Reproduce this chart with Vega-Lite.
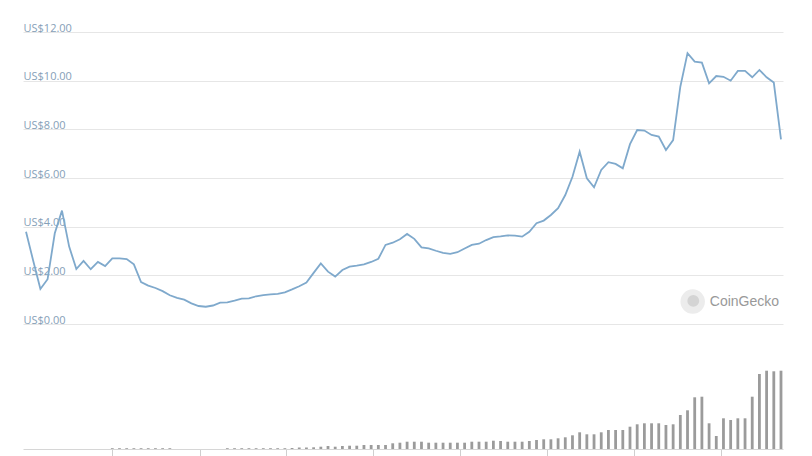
{
  "$schema": "https://vega.github.io/schema/vega-lite/v6.json",
  "width": 760,
  "height": 417,
  "autosize": {"type": "none"},
  "padding": {"left": 23, "top": 32, "right": 29, "bottom": 7},
  "background": "white",
  "config": {"view": {"stroke": null}, "font": "Open Sans"},
  "data": {"values": [
    {"k":0,"price":3.79,"volume":0},{"k":1,"price":2.6,"volume":0},{"k":2,"price":1.44,"volume":0},{"k":3,"price":1.84,"volume":0},
    {"k":4,"price":3.73,"volume":0},{"k":5,"price":4.66,"volume":0},{"k":6,"price":3.18,"volume":0},{"k":7,"price":2.26,"volume":0},
    {"k":8,"price":2.59,"volume":0},{"k":9,"price":2.25,"volume":0},{"k":10,"price":2.55,"volume":0},{"k":11,"price":2.38,"volume":0},
    {"k":12,"price":2.7,"volume":0.8},{"k":13,"price":2.7,"volume":0.8},{"k":14,"price":2.67,"volume":0.8},{"k":15,"price":2.45,"volume":0.8},
    {"k":16,"price":1.72,"volume":0.8},{"k":17,"price":1.58,"volume":0.8},{"k":18,"price":1.48,"volume":0.8},{"k":19,"price":1.35,"volume":0.8},
    {"k":20,"price":1.18,"volume":0.8},{"k":21,"price":1.07,"volume":0},{"k":22,"price":1.0,"volume":0},{"k":23,"price":0.85,"volume":0},
    {"k":24,"price":0.74,"volume":0},{"k":25,"price":0.71,"volume":0},{"k":26,"price":0.76,"volume":0},{"k":27,"price":0.88,"volume":0},
    {"k":28,"price":0.89,"volume":0.8},{"k":29,"price":0.96,"volume":0.8},{"k":30,"price":1.04,"volume":0.8},{"k":31,"price":1.05,"volume":0.8},
    {"k":32,"price":1.14,"volume":0.8},{"k":33,"price":1.19,"volume":0.8},{"k":34,"price":1.22,"volume":0.8},{"k":35,"price":1.24,"volume":0.8},
    {"k":36,"price":1.3,"volume":0.8},{"k":37,"price":1.42,"volume":1.0},{"k":38,"price":1.55,"volume":1.5},{"k":39,"price":1.7,"volume":1.5},
    {"k":40,"price":2.1,"volume":1.7},{"k":41,"price":2.49,"volume":2.3},{"k":42,"price":2.15,"volume":3.0},{"k":43,"price":1.95,"volume":2.3},
    {"k":44,"price":2.22,"volume":3.0},{"k":45,"price":2.36,"volume":3.3},{"k":46,"price":2.4,"volume":3.3},{"k":47,"price":2.45,"volume":4.0},
    {"k":48,"price":2.55,"volume":4.0},{"k":49,"price":2.68,"volume":4.0},{"k":50,"price":3.25,"volume":4.0},{"k":51,"price":3.34,"volume":5.7},
    {"k":52,"price":3.48,"volume":6.3},{"k":53,"price":3.7,"volume":7.3},{"k":54,"price":3.5,"volume":7.3},{"k":55,"price":3.15,"volume":7.3},
    {"k":56,"price":3.11,"volume":6.3},{"k":57,"price":3.01,"volume":6.3},{"k":58,"price":2.92,"volume":6.3},{"k":59,"price":2.88,"volume":6.3},
    {"k":60,"price":2.95,"volume":6.3},{"k":61,"price":3.1,"volume":6.3},{"k":62,"price":3.25,"volume":7.3},{"k":63,"price":3.3,"volume":7.3},
    {"k":64,"price":3.45,"volume":7.3},{"k":65,"price":3.57,"volume":8.3},{"k":66,"price":3.6,"volume":8.0},{"k":67,"price":3.64,"volume":7.3},
    {"k":68,"price":3.63,"volume":7.3},{"k":69,"price":3.59,"volume":7.3},{"k":70,"price":3.79,"volume":8.0},{"k":71,"price":4.14,"volume":9.0},
    {"k":72,"price":4.25,"volume":9.7},{"k":73,"price":4.48,"volume":9.7},{"k":74,"price":4.76,"volume":10.7},{"k":75,"price":5.3,"volume":11.7},
    {"k":76,"price":6.05,"volume":13.7},{"k":77,"price":7.08,"volume":16.7},{"k":78,"price":5.99,"volume":14.7},{"k":79,"price":5.62,"volume":14.7},
    {"k":80,"price":6.33,"volume":16.7},{"k":81,"price":6.65,"volume":19.0},{"k":82,"price":6.58,"volume":19.0},{"k":83,"price":6.4,"volume":19.0},
    {"k":84,"price":7.39,"volume":22.3},{"k":85,"price":7.97,"volume":24.7},{"k":86,"price":7.95,"volume":25.7},{"k":87,"price":7.77,"volume":25.7},
    {"k":88,"price":7.7,"volume":25.7},{"k":89,"price":7.15,"volume":24.0},{"k":90,"price":7.56,"volume":24.7},{"k":91,"price":9.75,"volume":34.0},
    {"k":92,"price":11.13,"volume":38.7},{"k":93,"price":10.78,"volume":51.7},{"k":94,"price":10.74,"volume":52.3},{"k":95,"price":9.89,"volume":25.7},
    {"k":96,"price":10.19,"volume":13.0},{"k":97,"price":10.16,"volume":30.7},{"k":98,"price":10.0,"volume":29.0},{"k":99,"price":10.4,"volume":30.7},
    {"k":100,"price":10.4,"volume":30.7},{"k":101,"price":10.14,"volume":52.3},{"k":102,"price":10.44,"volume":75.0},{"k":103,"price":10.14,"volume":78.3},
    {"k":104,"price":9.92,"volume":77.7},{"k":105,"price":7.59,"volume":78.3}
  ]},
  "layer": [
    {
      "layer": [
        {
          "mark": {"type": "line", "color": "#7fa9cc", "strokeWidth": 1.8},
          "encoding": {
            "x": {"field": "k", "type": "quantitative",
                  "scale": {"domain": [-0.42, 105.28], "nice": false, "zero": false, "padding": 0},
                  "axis": {"values": [11.96, 24.2, 36.16, 48.26, 60.36, 72.46, 84.56, 96.66], "labels": false,
                           "ticks": true, "tickSize": 8, "tickColor": "#cfcfcf", "domainColor": "#d6d6d6",
                           "grid": false, "title": null}},
            "y": {"field": "price", "type": "quantitative",
                  "scale": {"domain": [0, 12], "range": [292, 0], "nice": false, "zero": true},
                  "axis": {"values": [0, 2, 4, 6, 8, 10, 12], "labelExpr": "'US$' + format(datum.value, '.2f')",
                           "orient": "left", "domain": false, "ticks": false, "tickSize": 0, "labelPadding": 0,
                           "labelAlign": "left", "labelBaseline": "alphabetic", "labelOffset": -1,
                           "labelColor": "#86a0b8", "labelFontSize": 11, "labelFont": "Open Sans",
                           "grid": true, "gridColor": "#e6e6e6", "title": null}}
          }
        },
        {
          "data": {"values": [{}]},
          "mark": {"type": "point", "filled": true, "size": 600, "color": "#ececec", "opacity": 1},
          "encoding": {"x": {"datum": 92.72}, "y": {"datum": 0.92}}
        },
        {
          "data": {"values": [{}]},
          "mark": {"type": "point", "filled": true, "size": 140, "color": "#d4d4d4", "opacity": 1},
          "encoding": {"x": {"datum": 92.8}, "y": {"datum": 0.95}}
        },
        {
          "data": {"values": [{}]},
          "mark": {"type": "text", "text": "CoinGecko", "fontSize": 14, "color": "#999999", "align": "left", "baseline": "middle", "font": "Liberation Sans"},
          "encoding": {"x": {"datum": 95.1}, "y": {"datum": 0.9}}
        }
      ]
    },
    {
      "mark": {"type": "bar", "color": "#9b9b9b", "size": 2.8},
      "encoding": {
        "x": {"field": "k", "type": "quantitative"},
        "y": {"field": "volume", "type": "quantitative", "scale": {"domain": [0, 100], "range": [417, 317]}, "axis": null}
      }
    }
  ],
  "resolve": {"scale": {"y": "independent"}, "axis": {"y": "independent"}}
}
